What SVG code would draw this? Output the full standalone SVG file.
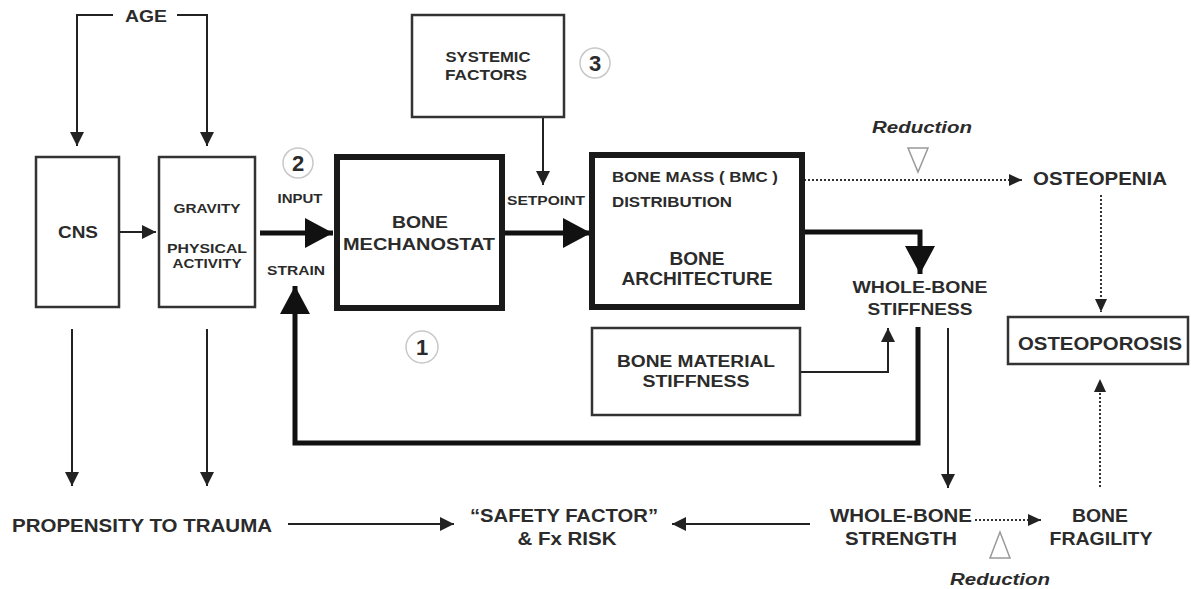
<svg xmlns="http://www.w3.org/2000/svg" width="1191" height="589" viewBox="0 0 1191 589">
<style>
text{font-family:"Liberation Sans",Arial,sans-serif;font-weight:bold;fill:#2b2b2b}
.c{text-anchor:middle}
.box{fill:#fff;stroke:#333;stroke-width:2.5}
.thick{fill:#fff;stroke:#1a1a1a;stroke-width:6}
.ln{fill:none;stroke:#222;stroke-width:2}
.tk{fill:none;stroke:#111;stroke-width:5}
.dot{fill:none;stroke:#333;stroke-width:2;stroke-dasharray:2 2}
.num{fill:#fff;stroke:#c8c8c8;stroke-width:1.5}
.tri{fill:#fff;stroke:#999;stroke-width:1.5}
.it{font-style:italic}
</style>
<defs>
<marker id="a" markerUnits="userSpaceOnUse" markerWidth="16" markerHeight="16" refX="14" refY="8" orient="auto"><path d="M0,1 L14,8 L0,15 z" fill="#222"/></marker>
<marker id="b" markerUnits="userSpaceOnUse" markerWidth="30" markerHeight="32" refX="28" refY="16" orient="auto"><path d="M0,1 L28,16 L0,31 z" fill="#111"/></marker>
<marker id="d" markerUnits="userSpaceOnUse" markerWidth="14" markerHeight="14" refX="13" refY="7" orient="auto"><path d="M0,1 L13,7 L0,13 z" fill="#222"/></marker>
</defs>

<g id="connectors">
<path class="ln" d="M113,15 H77 V146" marker-end="url(#a)"/>
<path class="ln" d="M177,15 H207 V146" marker-end="url(#a)"/>
<path class="ln" d="M120,232 H156" marker-end="url(#a)"/>
<path class="ln" d="M72,329 V486" marker-end="url(#a)"/>
<path class="ln" d="M207,329 V486" marker-end="url(#a)"/>
<path class="tk" d="M260,233 H333" marker-end="url(#b)"/>
<path class="ln" d="M543,117 V185" marker-end="url(#a)"/>
<path class="tk" d="M505,233 H591" marker-end="url(#b)"/>
<path class="tk" d="M805,232 H920 V274" marker-end="url(#b)"/>
<path class="ln" d="M800,372 H888 V328" marker-end="url(#a)"/>
<path class="tk" d="M918,327 V443 H295 V286" marker-end="url(#b)"/>
<path class="ln" d="M948,328 V488" marker-end="url(#a)"/>
<path class="ln" d="M288,524 H454" marker-end="url(#a)"/>
<path class="ln" d="M810,524 H672" marker-end="url(#a)"/>
<path class="dot" d="M784,180 H1022" marker-end="url(#d)"/>
<path class="dot" d="M1101,195 V312" marker-end="url(#d)"/>
<path class="dot" d="M975,520 H1041" marker-end="url(#d)"/>
<path class="dot" d="M1100,487 V379" marker-end="url(#d)"/>
<polygon class="tri" points="908,148 928,148 918,172"/>
<polygon class="tri" points="990,558 1010,558 1000,532"/>
</g>

<g id="age"><text class="c" x="146" y="22" font-size="16" textLength="42" lengthAdjust="spacingAndGlyphs">AGE</text></g>

<g id="cns">
<rect class="box" x="36" y="157" width="83" height="150"/>
<text class="c" x="78" y="238" font-size="16" textLength="40" lengthAdjust="spacingAndGlyphs">CNS</text>
</g>

<g id="gravity">
<rect class="box" x="159" y="157" width="96" height="150"/>
<text class="c" x="207" y="213" font-size="13" textLength="67" lengthAdjust="spacingAndGlyphs">GRAVITY</text>
<text class="c" x="207" y="253" font-size="13" textLength="80" lengthAdjust="spacingAndGlyphs">PHYSICAL</text>
<text class="c" x="207" y="268" font-size="13" textLength="69" lengthAdjust="spacingAndGlyphs">ACTIVITY</text>
</g>

<g id="input-label">
<circle class="num" cx="298" cy="163" r="15"/>
<text class="c" x="298" y="171" font-size="22">2</text>
<text class="c" x="300" y="203" font-size="12" textLength="45" lengthAdjust="spacingAndGlyphs">INPUT</text>
<text class="c" x="296" y="275" font-size="13" textLength="58" lengthAdjust="spacingAndGlyphs">STRAIN</text>
</g>

<g id="mechanostat">
<rect class="thick" x="337" y="157" width="165" height="151"/>
<text class="c" x="420" y="228" font-size="17" textLength="56" lengthAdjust="spacingAndGlyphs">BONE</text>
<text class="c" x="419" y="250" font-size="17" textLength="152" lengthAdjust="spacingAndGlyphs">MECHANOSTAT</text>
</g>

<g id="num1">
<circle class="num" cx="422" cy="347" r="16"/>
<text class="c" x="422" y="355" font-size="22">1</text>
</g>

<g id="systemic">
<rect class="box" x="412" y="15" width="152" height="102"/>
<text class="c" x="488" y="62" font-size="14" textLength="85" lengthAdjust="spacingAndGlyphs">SYSTEMIC</text>
<text class="c" x="486" y="80" font-size="14" textLength="82" lengthAdjust="spacingAndGlyphs">FACTORS</text>
</g>

<g id="num3">
<circle class="num" cx="595" cy="63" r="15"/>
<text class="c" x="595" y="71" font-size="22">3</text>
</g>

<g id="setpoint"><text class="c" x="546" y="205" font-size="13" textLength="78" lengthAdjust="spacingAndGlyphs">SETPOINT</text></g>

<g id="architecture">
<rect class="thick" x="592" y="155" width="210" height="152"/>
<text x="612" y="182" font-size="14" textLength="166" lengthAdjust="spacingAndGlyphs">BONE MASS ( BMC )</text>
<text x="612" y="207" font-size="14" textLength="120" lengthAdjust="spacingAndGlyphs">DISTRIBUTION</text>
<text class="c" x="697" y="265" font-size="18" textLength="55" lengthAdjust="spacingAndGlyphs">BONE</text>
<text class="c" x="697" y="285" font-size="18" textLength="151" lengthAdjust="spacingAndGlyphs">ARCHITECTURE</text>
</g>

<g id="reduction-top"><text class="c it" x="922" y="133" font-size="16" textLength="100" lengthAdjust="spacingAndGlyphs">Reduction</text></g>

<g id="osteopenia"><text class="c" x="1100" y="185" font-size="18" textLength="134" lengthAdjust="spacingAndGlyphs">OSTEOPENIA</text></g>

<g id="whole-bone-stiffness">
<text class="c" x="920" y="293" font-size="17" textLength="135" lengthAdjust="spacingAndGlyphs">WHOLE-BONE</text>
<text class="c" x="920" y="315" font-size="17" textLength="105" lengthAdjust="spacingAndGlyphs">STIFFNESS</text>
</g>

<g id="material">
<rect class="box" x="592" y="328" width="208" height="87"/>
<text class="c" x="696" y="367" font-size="16" textLength="158" lengthAdjust="spacingAndGlyphs">BONE MATERIAL</text>
<text class="c" x="696" y="387" font-size="16" textLength="107" lengthAdjust="spacingAndGlyphs">STIFFNESS</text>
</g>

<g id="osteoporosis">
<rect class="box" x="1008" y="317" width="180" height="47" stroke-width="3"/>
<text class="c" x="1100" y="350" font-size="18" textLength="164" lengthAdjust="spacingAndGlyphs">OSTEOPOROSIS</text>
</g>

<g id="propensity"><text class="c" x="142" y="532" font-size="19" textLength="260" lengthAdjust="spacingAndGlyphs">PROPENSITY TO TRAUMA</text></g>

<g id="safety">
<text class="c" x="564" y="522" font-size="19" textLength="188" lengthAdjust="spacingAndGlyphs">“SAFETY FACTOR”</text>
<text class="c" x="567" y="545" font-size="19" textLength="99" lengthAdjust="spacingAndGlyphs">&amp; Fx RISK</text>
</g>

<g id="whole-bone-strength">
<text class="c" x="901" y="522" font-size="19" textLength="142" lengthAdjust="spacingAndGlyphs">WHOLE-BONE</text>
<text class="c" x="901" y="545" font-size="19" textLength="112" lengthAdjust="spacingAndGlyphs">STRENGTH</text>
</g>

<g id="fragility">
<text class="c" x="1100" y="522" font-size="19" textLength="56" lengthAdjust="spacingAndGlyphs">BONE</text>
<text class="c" x="1101" y="545" font-size="19" textLength="103" lengthAdjust="spacingAndGlyphs">FRAGILITY</text>
</g>

<g id="reduction-bottom"><text class="c it" x="1000" y="585" font-size="16" textLength="100" lengthAdjust="spacingAndGlyphs">Reduction</text></g>
</svg>
